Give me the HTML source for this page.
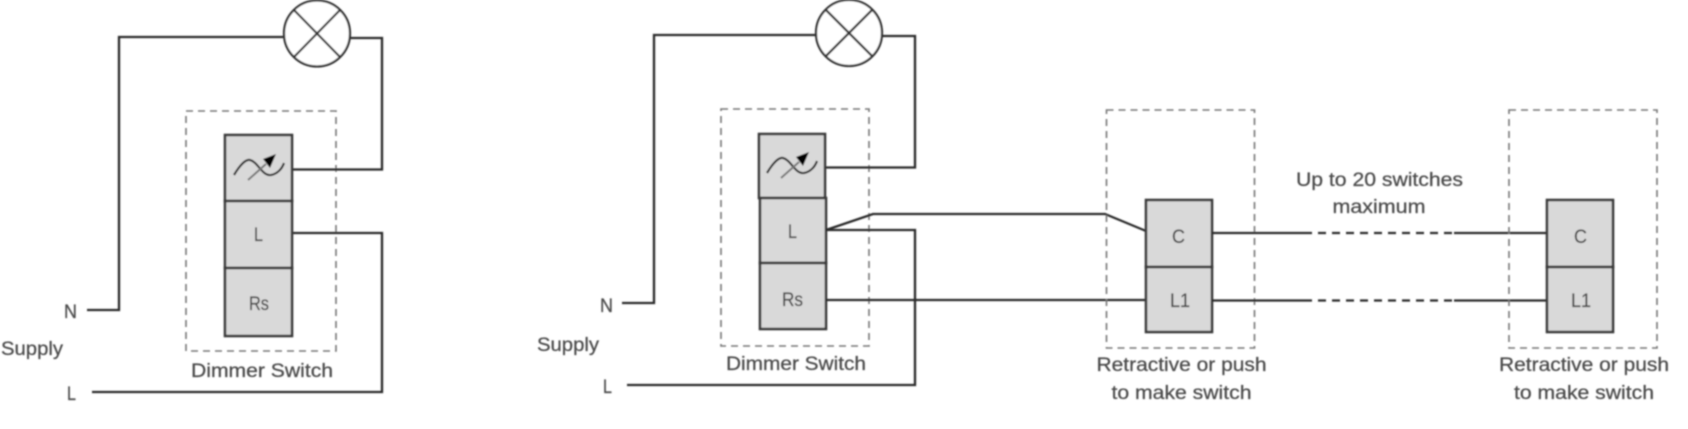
<!DOCTYPE html>
<html>
<head>
<meta charset="utf-8">
<style>
html,body{margin:0;padding:0;background:#fff;width:1688px;height:429px;overflow:hidden}
svg{display:block}
text{font-family:"Liberation Sans",sans-serif;font-size:19px;fill:#4a4a4a;stroke:#4a4a4a;stroke-width:.25}
.w{fill:none;stroke:#2a2a2a;stroke-width:2.3}
.d{fill:none;stroke:#777;stroke-width:1.6;stroke-dasharray:7 5}
.b{fill:#d9d9d9;stroke:#3a3a3a;stroke-width:2.6}
</style>
</head>
<body>
<svg width="1688" height="429" viewBox="0 0 1688 429" xmlns="http://www.w3.org/2000/svg">
<defs>
<filter id="bl" x="-2%" y="-2%" width="104%" height="104%"><feGaussianBlur stdDeviation="0.75"/></filter>
</defs>
<g filter="url(#bl)">
<!-- left circuit -->
<rect class="d" x="186" y="111" width="150" height="240"/>
<rect class="b" x="225" y="135" width="67" height="66"/>
<rect class="b" x="225" y="201" width="67" height="67"/>
<rect class="b" x="225" y="268" width="67" height="68"/>
<path class="w" d="M283 37H119V310H87"/>
<path class="w" d="M349 38H382V169.500H293"/>
<path class="w" d="M293 233H382V392H92"/>
<circle cx="317" cy="33.500" r="33" fill="#fff" stroke="#333" stroke-width="2.3"/>
<path d="M294 10L340 57M340 10L294 57" stroke="#333" stroke-width="2.3" fill="none"/>
<path d="M234 175C240 165 246 159 250 160C258 162 262 176 271 175C277 174 282 169 284 163" fill="none" stroke="#333" stroke-width="2.2"/>
<path d="M248 180L266 164" fill="none" stroke="#777" stroke-width="2"/>
<path d="M276 154L263 159L270 168Z" fill="#000"/>
<text x="64" y="318" textLength="13" lengthAdjust="spacingAndGlyphs">N</text>
<text x="1" y="355" textLength="62" lengthAdjust="spacingAndGlyphs">Supply</text>
<text x="67" y="400" textLength="9" lengthAdjust="spacingAndGlyphs">L</text>
<text x="191" y="377" textLength="142" lengthAdjust="spacingAndGlyphs">Dimmer Switch</text>
<text x="254" y="241" textLength="9" lengthAdjust="spacingAndGlyphs">L</text>
<text x="249" y="310" textLength="20" lengthAdjust="spacingAndGlyphs">Rs</text>

<!-- middle circuit -->
<rect class="d" x="721" y="109" width="148" height="237"/>
<rect class="b" x="759" y="134" width="66" height="64"/>
<rect class="b" x="760" y="198" width="66" height="65"/>
<rect class="b" x="760" y="263" width="66" height="66"/>
<path class="w" d="M816 35H654V303H622"/>
<path class="w" d="M882 36H915V167.500H826"/>
<path class="w" d="M826 230H915V385H627"/>
<path class="w" d="M826 230L873 214L1105 214L1146 231"/>
<path class="w" d="M826 300H1146"/>
<circle cx="849" cy="33" r="33" fill="#fff" stroke="#333" stroke-width="2.3"/>
<path d="M826 10L872 56M872 10L826 56" stroke="#333" stroke-width="2.3" fill="none"/>
<g transform="translate(533 -2)">
<path d="M234 175C240 165 246 159 250 160C258 162 262 176 271 175C277 174 282 169 284 163" fill="none" stroke="#333" stroke-width="2.2"/>
<path d="M248 180L266 164" fill="none" stroke="#777" stroke-width="2"/>
<path d="M276 154L263 159L270 168Z" fill="#000"/>
</g>
<text x="600" y="312" textLength="13" lengthAdjust="spacingAndGlyphs">N</text>
<text x="537" y="351" textLength="62" lengthAdjust="spacingAndGlyphs">Supply</text>
<text x="603" y="393" textLength="9" lengthAdjust="spacingAndGlyphs">L</text>
<text x="726" y="370" textLength="140" lengthAdjust="spacingAndGlyphs">Dimmer Switch</text>
<text x="788" y="238" textLength="9" lengthAdjust="spacingAndGlyphs">L</text>
<text x="782" y="306" textLength="21" lengthAdjust="spacingAndGlyphs">Rs</text>

<!-- retractive switch 1 -->
<rect class="d" x="1112" y="110" width="148" height="238" transform="translate(-5.500 0)"/>
<rect class="b" x="1146" y="200" width="66" height="67"/>
<rect class="b" x="1146" y="267" width="66" height="65"/>
<text x="1172" y="243" textLength="13" lengthAdjust="spacingAndGlyphs">C</text>
<text x="1170" y="307" textLength="20" lengthAdjust="spacingAndGlyphs">L1</text>
<text x="1096.500" y="371" textLength="170" lengthAdjust="spacingAndGlyphs">Retractive or push</text>
<text x="1111.500" y="399" textLength="140" lengthAdjust="spacingAndGlyphs">to make switch</text>

<!-- link wires -->
<path class="w" d="M1212 233H1304M1454 233H1547"/>
<path class="w" d="M1304 233H1454" stroke-dasharray="8 6"/>
<path class="w" d="M1212 300.500H1304M1454 300.500H1547"/>
<path class="w" d="M1304 300.500H1454" stroke-dasharray="8 6"/>
<text x="1296" y="186" textLength="167" lengthAdjust="spacingAndGlyphs">Up to 20 switches</text>
<text x="1332.500" y="213" textLength="93" lengthAdjust="spacingAndGlyphs">maximum</text>

<!-- retractive switch 2 -->
<rect class="d" x="1509" y="110" width="148" height="238"/>
<rect class="b" x="1547" y="200" width="66" height="67"/>
<rect class="b" x="1547" y="267" width="66" height="65"/>
<text x="1574" y="243" textLength="13" lengthAdjust="spacingAndGlyphs">C</text>
<text x="1571" y="307" textLength="20" lengthAdjust="spacingAndGlyphs">L1</text>
<text x="1499" y="371" textLength="170" lengthAdjust="spacingAndGlyphs">Retractive or push</text>
<text x="1514" y="399" textLength="140" lengthAdjust="spacingAndGlyphs">to make switch</text>
</g>
</svg>
</body>
</html>
